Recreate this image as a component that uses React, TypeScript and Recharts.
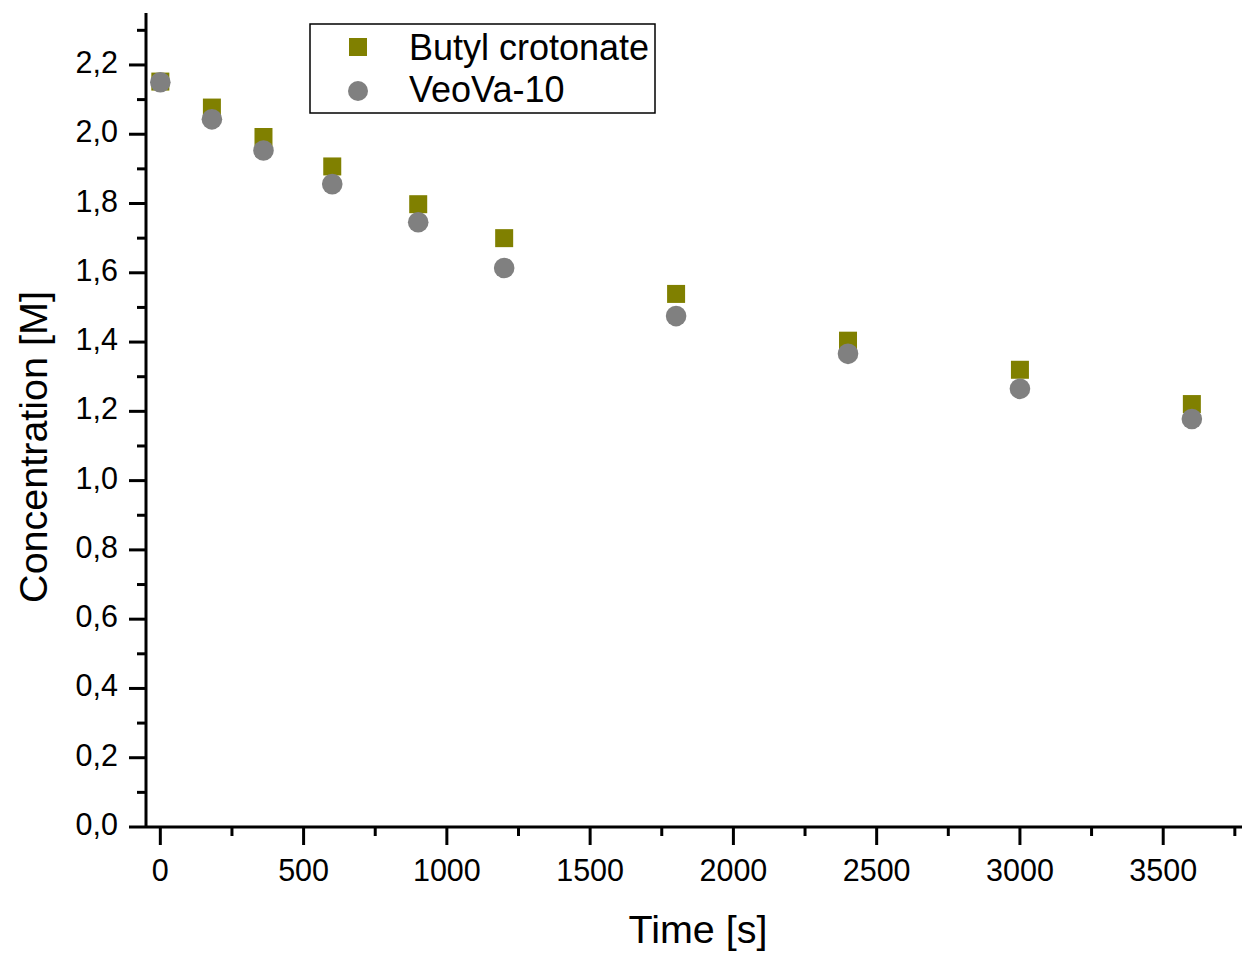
import { Scatter, ScatterChart, XAxis, YAxis } from 'recharts';

const times = [0, 180, 360, 600, 900, 1200, 1800, 2400, 3000, 3600];
const butylCrotonate = [2.152, 2.077, 1.992, 1.907, 1.798, 1.7, 1.539, 1.404, 1.32, 1.221];
const veova10 = [2.15, 2.043, 1.953, 1.856, 1.746, 1.614, 1.475, 1.366, 1.265, 1.178];

const xMajorTicks = [0, 500, 1000, 1500, 2000, 2500, 3000, 3500];
const xMinorTicks = [250, 750, 1250, 1750, 2250, 2750, 3250, 3750];
const yMajorTicks = [0, 0.2, 0.4, 0.6, 0.8, 1.0, 1.2, 1.4, 1.6, 1.8, 2.0, 2.2];
const yMinorTicks = [0.1, 0.3, 0.5, 0.7, 0.9, 1.1, 1.3, 1.5, 1.7, 1.9, 2.1, 2.3];

const seriesNames = ['Butyl crotonate', 'VeoVa-10'];

const butylData = times.map((t, i) => ({ t, c: butylCrotonate[i] }));
const veovaData = times.map((t, i) => ({ t, c: veova10[i] }));

const FONT = '"Liberation Sans", Arial, sans-serif';
const OLIVE = '#808000';
const GRAY = '#808080';

function formatComma(v: number): string {
  return v.toFixed(1).replace('.', ',');
}

function XTick(props: any) {
  const { x, y, payload } = props;
  const major = xMajorTicks.includes(payload.value);
  return (
    <g>
      <line x1={x} x2={x} y1={y} y2={y + (major ? 18 : 9)} stroke="#000" strokeWidth={3} />
      {major ? (
        <text x={x} y={y + 54} textAnchor="middle" fontSize={30.5} fontFamily={FONT} fill="#000">
          {payload.value}
        </text>
      ) : null}
    </g>
  );
}

function YTick(props: any) {
  const { x, y, payload } = props;
  const major = yMajorTicks.some(v => Math.abs(v - payload.value) < 1e-6);
  return (
    <g>
      <line x1={x} x2={x - (major ? 17 : 9)} y1={y} y2={y} stroke="#000" strokeWidth={3} />
      {major ? (
        <text x={x - 28} y={y + 8} textAnchor="end" fontSize={30.5} fontFamily={FONT} fill="#000">
          {formatComma(payload.value)}
        </text>
      ) : null}
    </g>
  );
}

function LegendBox() {
  return (
    <svg
      width={348}
      height={92}
      style={{ position: 'absolute', left: 309, top: 23, display: 'block' }}
    >
      <rect x={1} y={1} width={345} height={89} fill="#fff" stroke="#000" strokeWidth={1.5} />
      <rect x={40} y={15} width={18} height={18} fill={OLIVE} />
      <circle cx={49} cy={68} r={10} fill={GRAY} />
      <text x={100} y={37} fontSize={36} fontFamily={FONT} fill="#000">
        {seriesNames[0]}
      </text>
      <text x={100} y={79} fontSize={36} fontFamily={FONT} fill="#000">
        {seriesNames[1]}
      </text>
    </svg>
  );
}

export default function App() {
  return (
    <div style={{ position: 'absolute', left: 0, top: 0, width: 1244, height: 953, background: '#fff' }}>
      <ScatterChart width={1244} height={953} margin={{ top: 13, right: 2, left: 0, bottom: 0 }}>
        <XAxis
          type="number"
          dataKey="t"
          domain={[-50, 3775]}
          allowDataOverflow
          ticks={[...xMajorTicks, ...xMinorTicks]}
          interval={0}
          height={126}
          tickSize={0}
          tickMargin={0}
          tickLine={false}
          axisLine={{ stroke: '#000', strokeWidth: 3 }}
          tick={<XTick />}
          label={{
            content: (p: any) => {
              const vb = p.viewBox;
              return (
                <text x={vb.x + vb.width / 2 + 4} y={943} textAnchor="middle" fontSize={39.5} fontFamily={FONT} fill="#000">
                  Time [s]
                </text>
              );
            },
          }}
        />
        <YAxis
          type="number"
          dataKey="c"
          domain={[0, 2.35]}
          allowDataOverflow
          ticks={[...yMajorTicks, ...yMinorTicks]}
          interval={0}
          width={146}
          tickSize={0}
          tickMargin={0}
          tickLine={false}
          axisLine={{ stroke: '#000', strokeWidth: 3 }}
          tick={<YTick />}
          label={{
            content: () => (
              <text
                x={47}
                y={447}
                transform="rotate(-90 47 447)"
                textAnchor="middle"
                fontSize={39.5}
                fontFamily={FONT}
                fill="#000"
              >
                Concentration [M]
              </text>
            ),
          }}
        />
        <Scatter
          name={seriesNames[0]}
          data={butylData}
          isAnimationActive={false}
          shape={(p: any) => <rect x={p.cx - 9} y={p.cy - 9} width={18} height={18} fill={OLIVE} />}
        />
        <Scatter
          name={seriesNames[1]}
          data={veovaData}
          isAnimationActive={false}
          shape={(p: any) => <circle cx={p.cx} cy={p.cy} r={10.3} fill={GRAY} />}
        />
      </ScatterChart>
      <LegendBox />
    </div>
  );
}
